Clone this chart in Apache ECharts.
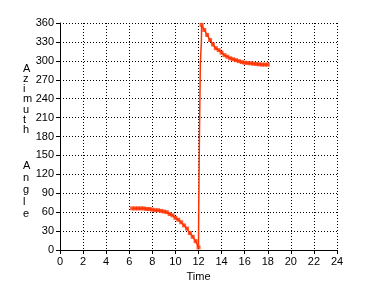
<!DOCTYPE html>
<html><head><meta charset="utf-8">
<script src="https://cdn.jsdelivr.net/npm/echarts@6/dist/echarts.min.js"></script>
<style>html,body{margin:0;padding:0;background:#fff}#c{width:370px;height:299px}</style>
</head><body><div id="c"></div>
<script>
const xTicks = [0,2,4,6,8,10,12,14,16,18,20,22,24];
const yTicks = [0,30,60,90,120,150,180,210,240,270,300,330,360];
const morningTimes = [6.25,6.5,6.75,7,7.25,7.5,7.75,8,8.25,8.5,8.75,9,9.25,9.5,9.75,10,10.25,10.5,10.75,11,11.25,11.5,11.75,12];
const morningAz = [66,66,66,66,66,65,65,64,63,63,62,61,60,57,55,51,48,44,39,34,27,21,14,4];
const noonTimes = [12.02,12.08,12.16,12.25];
const noonAz = [63,180,297,330];
const afternoonTimes = [12.27,12.5,12.75,13,13.25,13.5,13.75,14,14.25,14.5,14.75,15,15.25,15.5,15.75,16,16.25,16.5,16.75,17,17.25,17.5,17.75,18];
const afternoonAz = [357,349,341,333,326,320,317,313,309,306.5,304,302.5,301,299.5,298,297,296.5,296,295.5,295,294.5,294,294,294];

const pair = (t, v) => t.map((x, i) => [x, v[i]]);
const linePts = pair(morningTimes, morningAz).concat(pair(noonTimes, noonAz), pair(afternoonTimes, afternoonAz));
const markPts = pair(morningTimes, morningAz).concat(pair(afternoonTimes, afternoonAz));
const red = '#ff3300';
const font = 'Liberation Sans, Arial, sans-serif';

const chart = echarts.init(document.getElementById('c'), null, {renderer: 'canvas'});
chart.setOption({
  animation: false,
  grid: {left: 60, right: 33, top: 23, bottom: 49, containLabel: false},
  xAxis: {
    type: 'value', min: xTicks[0], max: xTicks[xTicks.length-1], interval: 2,
    name: 'Time', nameLocation: 'middle', nameGap: 21,
    nameTextStyle: {color: '#000', fontFamily: font, fontSize: 11},
    axisLine: {show: true, onZero: false, lineStyle: {color: '#000', width: 1}},
    axisTick: {show: true, length: 4, lineStyle: {color: '#000'}},
    axisLabel: {color: '#000', fontFamily: font, fontSize: 11, margin: 6},
    splitLine: {show: true, lineStyle: {color: '#000', type: [1, 2], width: 1}}
  },
  yAxis: {
    type: 'value', min: yTicks[0], max: yTicks[yTicks.length-1], interval: 30,
    axisLine: {show: true, onZero: false, lineStyle: {color: '#000', width: 1}},
    axisTick: {show: true, length: 4, lineStyle: {color: '#000'}},
    axisLabel: {color: '#000', fontFamily: font, fontSize: 11, margin: 6},
    splitLine: {show: true, lineStyle: {color: '#000', type: [1, 2], width: 1}}
  },
  graphic: [
    {type: 'text', left: 23, top: 63, style: {text: 'A\nz\ni\nm\nu\nt\nh', fill: '#000', font: '11px ' + font, lineHeight: 10.3, align: 'center'}},
    {type: 'text', left: 23, top: 160, style: {text: 'A\nn\ng\nl\ne', fill: '#000', font: '11px ' + font, lineHeight: 12, align: 'center'}}
  ],
  series: [
    {type: 'line', data: linePts, showSymbol: false, symbol: 'none', lineStyle: {color: red, width: 1.5}, z: 2},
    {type: 'scatter', data: markPts, symbol: 'rect', symbolSize: 4, itemStyle: {color: red}, z: 3}
  ]
});
</script></body></html>
